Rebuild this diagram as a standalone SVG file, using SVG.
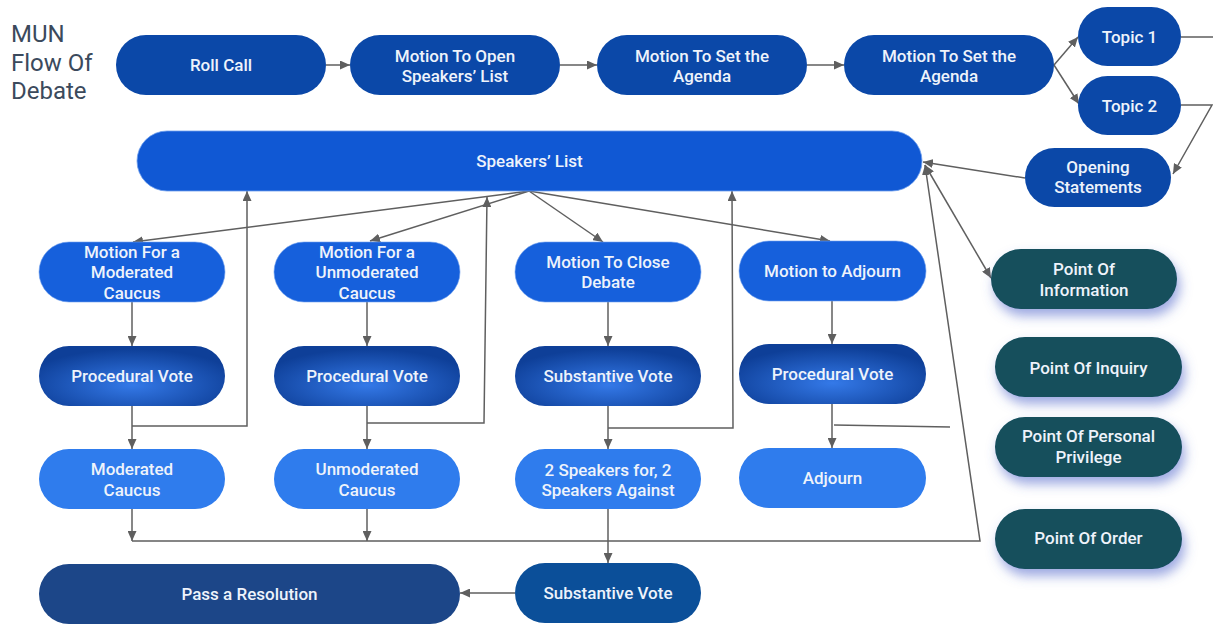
<svg xmlns="http://www.w3.org/2000/svg" width="1213" height="624" viewBox="0 0 1213 624">
<style>
.t{font-family:Roboto,"Liberation Sans",Arial,sans-serif;font-weight:500;font-size:17px;fill:#eef3fb;text-anchor:middle}
.title{font-family:Roboto,"Liberation Sans",Arial,sans-serif;font-size:24px;fill:#3b4a5c}
.c{fill:none;stroke:#5f5f5f;stroke-width:1.5}
.top{fill:#0b48a8}
.sl{fill:#1058d4;stroke:#6ea0ee;stroke-width:0.8}
.mo{fill:#1660dc;stroke:#6ea0ee;stroke-width:0.6}
.vote{fill:url(#vg)}
.lt{fill:#2f7ced}
.pr{fill:#1c4688}
.sv{fill:#0b4f99}
.pt{fill:#134f5c;filter:url(#sh)}
</style>
<defs>
<radialGradient id="vg" cx="50%" cy="65%" r="60%">
<stop offset="0" stop-color="#3479e8"/>
<stop offset="1" stop-color="#0e3f98"/>
</radialGradient>
<filter id="sh" x="-20%" y="-30%" width="150%" height="180%">
<feDropShadow dx="3" dy="7" stdDeviation="6" flood-color="#4b62c8" flood-opacity="0.55"/>
</filter>
<marker id="a" markerUnits="userSpaceOnUse" markerWidth="11" markerHeight="9" refX="10" refY="4.5" orient="auto-start-reverse">
<path d="M0,0 L10,4.5 L0,9 z" fill="#5f5f5f"/>
</marker>
</defs>

<text class="title" x="11" y="42">MUN</text>
<text class="title" x="11" y="71">Flow Of</text>
<text class="title" x="11" y="99">Debate</text>

<g id="connectors">
<path class="c" d="M326,65 H350" marker-end="url(#a)"/>
<path class="c" d="M560,65 H597" marker-end="url(#a)"/>
<path class="c" d="M807,65 H844" marker-end="url(#a)"/>
<path class="c" d="M1054,65 L1078,37" marker-end="url(#a)"/>
<path class="c" d="M1054,65 L1079,104" marker-end="url(#a)"/>
<path class="c" d="M1181,37 H1214 V105"/>
<path class="c" d="M1181,105 H1212 L1173,174" marker-end="url(#a)"/>
<path class="c" d="M1025,178 L923,162" marker-end="url(#a)"/>
<path class="c" d="M529,191 L133,242" marker-end="url(#a)"/>
<path class="c" d="M529,191 L370,241" marker-end="url(#a)"/>
<path class="c" d="M529,191 L603,242" marker-end="url(#a)"/>
<path class="c" d="M529,191 L830,241" marker-end="url(#a)"/>
<path class="c" d="M132,302 V346" marker-end="url(#a)"/>
<path class="c" d="M367,302 V346" marker-end="url(#a)"/>
<path class="c" d="M608,302 V346" marker-end="url(#a)"/>
<path class="c" d="M832,300 V344" marker-end="url(#a)"/>
<path class="c" d="M132,406 V449" marker-end="url(#a)"/>
<path class="c" d="M132,426 H247 V191" marker-end="url(#a)"/>
<path class="c" d="M367,406 V449" marker-end="url(#a)"/>
<path class="c" d="M367,423 H484 L487,197" marker-end="url(#a)"/>
<path class="c" d="M608,406 V449" marker-end="url(#a)"/>
<path class="c" d="M608,428 H733 L732,191" marker-end="url(#a)"/>
<path class="c" d="M832,404 V448" marker-end="url(#a)"/>
<path class="c" d="M834,425 L950,427"/>
<path class="c" d="M132,509 V541" marker-end="url(#a)"/>
<path class="c" d="M367,509 V541" marker-end="url(#a)"/>
<path class="c" d="M132,541 H980 L925,165" marker-end="url(#a)"/>
<path class="c" d="M608,509 V563" marker-end="url(#a)"/>
<path class="c" d="M515,593 H460" marker-end="url(#a)"/>
<path class="c" d="M925,165 L991,278" marker-start="url(#a)" marker-end="url(#a)"/>
</g>

<g id="roll-call"><rect class="top" x="116" y="35" width="210" height="60" rx="30"/><text class="t" x="221" y="71">Roll Call</text></g>
<g id="open-speakers-list"><rect class="top" x="350" y="35" width="210" height="60" rx="30"/><text class="t" x="455" y="62">Motion To Open</text><text class="t" x="455" y="82">Speakers’ List</text></g>
<g id="set-agenda-1"><rect class="top" x="597" y="35" width="210" height="60" rx="30"/><text class="t" x="702" y="62">Motion To Set the</text><text class="t" x="702" y="82">Agenda</text></g>
<g id="set-agenda-2"><rect class="top" x="844" y="35" width="210" height="60" rx="30"/><text class="t" x="949" y="62">Motion To Set the</text><text class="t" x="949" y="82">Agenda</text></g>
<g id="topic-1"><rect class="top" x="1078" y="7" width="103" height="59" rx="29.5"/><text class="t" x="1129.5" y="43">Topic 1</text></g>
<g id="topic-2"><rect class="top" x="1078" y="76" width="103" height="59" rx="29.5"/><text class="t" x="1129.5" y="112">Topic 2</text></g>
<g id="opening-statements"><rect class="top" x="1025" y="148" width="146" height="59" rx="29.5"/><text class="t" x="1098" y="173">Opening</text><text class="t" x="1098" y="193">Statements</text></g>

<g id="speakers-list"><rect class="sl" x="137" y="131" width="785" height="60" rx="30"/><text class="t" x="529.5" y="167">Speakers’ List</text></g>

<g id="motion-moderated"><rect class="mo" x="39" y="242" width="186" height="60" rx="30"/><text class="t" x="132" y="258">Motion For a</text><text class="t" x="132" y="278">Moderated</text><text class="t" x="132" y="299">Caucus</text></g>
<g id="motion-unmoderated"><rect class="mo" x="274" y="242" width="186" height="60" rx="30"/><text class="t" x="367" y="258">Motion For a</text><text class="t" x="367" y="278">Unmoderated</text><text class="t" x="367" y="299">Caucus</text></g>
<g id="motion-close-debate"><rect class="mo" x="515" y="242" width="186" height="60" rx="30"/><text class="t" x="608" y="268">Motion To Close</text><text class="t" x="608" y="288">Debate</text></g>
<g id="motion-adjourn"><rect class="mo" x="739" y="241" width="187" height="60" rx="30"/><text class="t" x="832.5" y="277">Motion to Adjourn</text></g>

<g id="procedural-vote-1"><rect class="vote" x="39" y="346" width="186" height="60" rx="30"/><text class="t" x="132" y="382">Procedural Vote</text></g>
<g id="procedural-vote-2"><rect class="vote" x="274" y="346" width="186" height="60" rx="30"/><text class="t" x="367" y="382">Procedural Vote</text></g>
<g id="substantive-vote-1"><rect class="vote" x="515" y="346" width="186" height="60" rx="30"/><text class="t" x="608" y="382">Substantive Vote</text></g>
<g id="procedural-vote-3"><rect class="vote" x="739" y="344" width="187" height="60" rx="30"/><text class="t" x="832.5" y="380">Procedural Vote</text></g>

<g id="moderated-caucus"><rect class="lt" x="39" y="449" width="186" height="60" rx="30"/><text class="t" x="132" y="475">Moderated</text><text class="t" x="132" y="496">Caucus</text></g>
<g id="unmoderated-caucus"><rect class="lt" x="274" y="449" width="186" height="60" rx="30"/><text class="t" x="367" y="475">Unmoderated</text><text class="t" x="367" y="496">Caucus</text></g>
<g id="two-speakers"><rect class="lt" x="515" y="449" width="186" height="60" rx="30"/><text class="t" x="608" y="476">2 Speakers for, 2</text><text class="t" x="608" y="496">Speakers Against</text></g>
<g id="adjourn"><rect class="lt" x="739" y="448" width="187" height="60" rx="30"/><text class="t" x="832.5" y="484">Adjourn</text></g>

<g id="pass-resolution"><rect class="pr" x="39" y="564" width="421" height="60" rx="30"/><text class="t" x="249.5" y="600">Pass a Resolution</text></g>
<g id="substantive-vote-2"><rect class="sv" x="515" y="563" width="186" height="60" rx="30"/><text class="t" x="608" y="599">Substantive Vote</text></g>

<g id="point-information"><rect class="pt" x="991" y="249" width="186" height="60" rx="30"/><text class="t" x="1084" y="275">Point Of</text><text class="t" x="1084" y="296">Information</text></g>
<g id="point-inquiry"><rect class="pt" x="995" y="337" width="187" height="60" rx="30"/><text class="t" x="1088.5" y="374">Point Of Inquiry</text></g>
<g id="point-privilege"><rect class="pt" x="995" y="417" width="187" height="60" rx="30"/><text class="t" x="1088.5" y="442">Point Of Personal</text><text class="t" x="1088.5" y="463">Privilege</text></g>
<g id="point-order"><rect class="pt" x="995" y="509" width="187" height="60" rx="30"/><text class="t" x="1088.5" y="544">Point Of Order</text></g>
</svg>
